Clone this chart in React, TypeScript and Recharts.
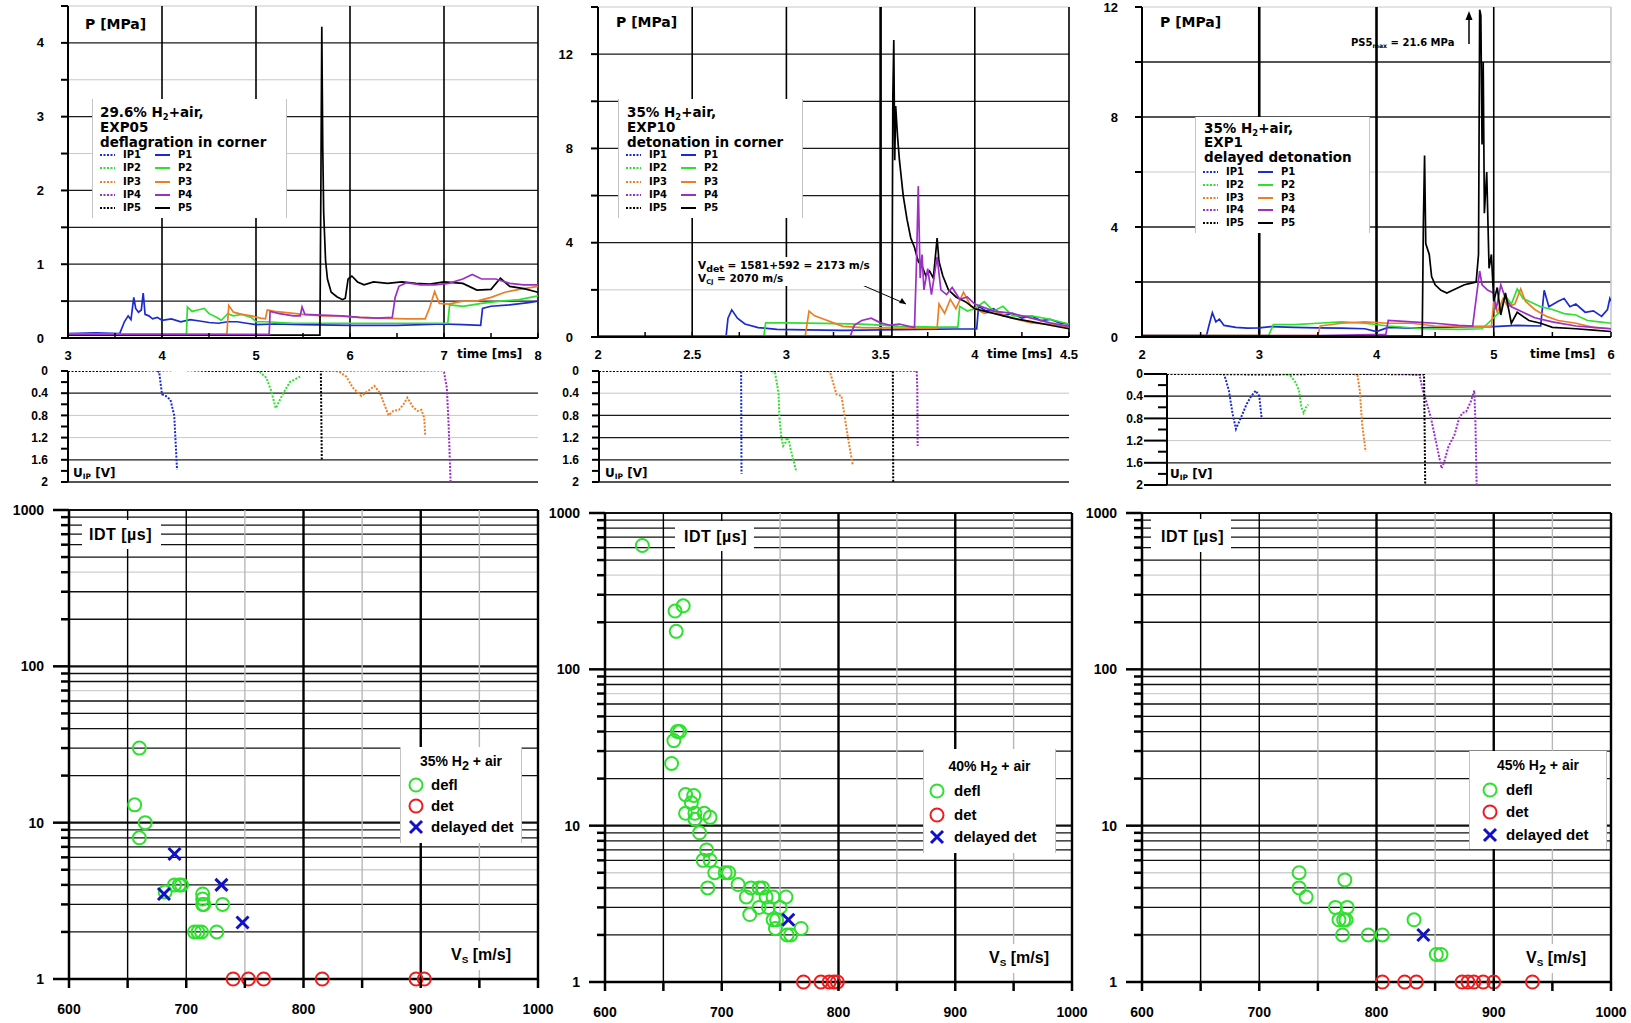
import React from "react";
import { LineChart, Line, XAxis, YAxis, ReferenceLine, ScatterChart, Scatter } from "recharts";

const FONT = '"Liberation Sans", Arial, Helvetica, sans-serif';
const WIDE = '"DejaVu Sans", Verdana, sans-serif';

const BLUE = "#1c2bd0";
const GREEN = "#2fe02f";
const ORANGE = "#ec7f25";
const PURPLE = "#9b2fc6";
const BLACK = "#000000";
const SENSOR_COLORS = [BLUE, GREEN, ORANGE, PURPLE, BLACK];

type Pair = [number, number];
const pts = (a: Pair[]) => a.map(([x, y]) => ({ x, y }));

// ---------- EXP05, 29.6% H2 : pressure [MPa] vs time [ms]
const p1Exp05: Pair[] = [[3,0.06],[3.3,0.07],[3.55,0.06],[3.6,0.22],[3.64,0.3],[3.67,0.25],[3.7,0.55],[3.72,0.4],[3.75,0.35],[3.78,0.38],[3.8,0.61],[3.82,0.32],[3.86,0.3],[3.9,0.26],[3.95,0.28],[4.0,0.24],[4.1,0.26],[4.2,0.22],[4.3,0.25],[4.4,0.23],[4.5,0.21],[4.6,0.2],[4.7,0.22],[4.8,0.22],[4.9,0.2],[5.0,0.18],[5.2,0.19],[5.5,0.18],[6.0,0.17],[6.5,0.17],[7.0,0.19],[7.2,0.18],[7.39,0.17],[7.41,0.4],[7.5,0.43],[7.7,0.45],[7.9,0.48],[8,0.5]];
const p2Exp05: Pair[] = [[3,0.05],[4.26,0.05],[4.27,0.42],[4.32,0.36],[4.38,0.38],[4.45,0.4],[4.5,0.33],[4.58,0.28],[4.63,0.24],[4.7,0.33],[4.76,0.3],[4.85,0.32],[4.95,0.28],[5.0,0.22],[5.1,0.22],[5.4,0.2],[5.8,0.2],[6.3,0.2],[6.8,0.2],[7.04,0.2],[7.06,0.45],[7.2,0.43],[7.4,0.47],[7.6,0.5],[7.8,0.52],[8,0.57]];
const p3Exp05: Pair[] = [[3,0.05],[4.69,0.05],[4.71,0.44],[4.76,0.35],[4.85,0.32],[4.95,0.3],[5.05,0.27],[5.1,0.26],[5.12,0.38],[5.2,0.36],[5.35,0.34],[5.5,0.32],[5.7,0.3],[5.9,0.3],[6.1,0.28],[6.3,0.27],[6.6,0.26],[6.8,0.26],[6.85,0.42],[6.9,0.63],[6.95,0.47],[7.05,0.46],[7.2,0.5],[7.35,0.5],[7.5,0.55],[7.65,0.62],[7.8,0.66],[8,0.7]];
const p4Exp05: Pair[] = [[3,0.05],[5.14,0.05],[5.15,0.36],[5.25,0.33],[5.4,0.3],[5.47,0.3],[5.49,0.42],[5.52,0.32],[5.7,0.31],[5.9,0.3],[6.1,0.28],[6.3,0.27],[6.45,0.28],[6.48,0.55],[6.52,0.7],[6.6,0.75],[6.75,0.72],[6.9,0.72],[7.05,0.74],[7.2,0.8],[7.3,0.86],[7.4,0.8],[7.55,0.8],[7.7,0.74],[7.85,0.72],[8,0.72]];
const p5Exp05: Pair[] = [[3,0.04],[5.68,0.04],[5.69,2.0],[5.7,4.22],[5.71,2.6],[5.72,1.7],[5.74,1.05],[5.76,0.8],[5.8,0.62],[5.86,0.56],[5.92,0.52],[5.95,0.54],[5.98,0.8],[6.02,0.84],[6.08,0.76],[6.15,0.72],[6.25,0.76],[6.4,0.74],[6.55,0.76],[6.7,0.74],[6.85,0.73],[7.0,0.76],[7.2,0.74],[7.35,0.65],[7.5,0.66],[7.6,0.81],[7.7,0.7],[7.85,0.67],[8,0.62]];
// ion probes [V]
const ip1Exp05: Pair[] = [[3.95,0],[3.97,0.02],[4.0,0.42],[4.04,0.45],[4.09,0.52],[4.13,0.8],[4.16,1.78]];
const ip2Exp05: Pair[] = [[5.0,0],[5.04,0.02],[5.11,0.12],[5.16,0.35],[5.21,0.67],[5.29,0.4],[5.36,0.2],[5.47,0.1]];
const ip3Exp05: Pair[] = [[5.85,0],[5.89,0.02],[5.96,0.1],[6.03,0.3],[6.12,0.45],[6.2,0.35],[6.26,0.27],[6.32,0.4],[6.41,0.8],[6.46,0.72],[6.52,0.7],[6.57,0.6],[6.61,0.48],[6.67,0.65],[6.72,0.72],[6.76,0.7],[6.79,0.85],[6.8,1.16]];
const ip4Exp05: Pair[] = [[5.7,0],[6.2,-0.01],[6.5,0],[6.98,-0.01],[7.0,0.02],[7.03,0.3],[7.05,1.0],[7.07,2.0]];
const ip5Exp05: Pair[] = [[3,0],[3.5,0],[4.0,-0.01],[4.2,-0.02],[4.5,0],[5.0,0],[5.69,0],[5.7,1.62]];

// ---------- EXP10, 35% H2
const p1Exp10: Pair[] = [[2,0.05],[2.68,0.05],[2.69,0.8],[2.71,1.15],[2.74,0.8],[2.78,0.55],[2.85,0.4],[2.95,0.32],[3.1,0.3],[3.3,0.28],[3.5,0.3],[3.7,0.32],[3.9,0.34],[4.01,0.34],[4.02,1.3],[4.06,1.1],[4.1,1.2],[4.15,0.9],[4.2,1.0],[4.25,0.8],[4.3,0.9],[4.35,0.7],[4.4,0.75],[4.45,0.6],[4.5,0.55]];
const p2Exp10: Pair[] = [[2,0.05],[2.88,0.05],[2.89,0.6],[3.0,0.6],[3.2,0.58],[3.4,0.55],[3.5,0.5],[3.6,0.45],[3.8,0.42],[3.91,0.42],[3.92,1.3],[3.96,1.1],[4.0,1.2],[4.05,1.5],[4.1,1.1],[4.15,1.3],[4.2,0.9],[4.3,0.9],[4.4,0.75],[4.5,0.55]];
const p3Exp10: Pair[] = [[2,0.05],[3.1,0.05],[3.12,1.1],[3.15,0.9],[3.2,0.75],[3.25,0.6],[3.3,0.45],[3.4,0.4],[3.6,0.38],[3.8,0.38],[3.81,1.4],[3.84,1.0],[3.87,1.6],[3.9,1.2],[3.94,1.9],[3.98,1.3],[4.05,1.0],[4.1,1.1],[4.2,0.8],[4.3,0.6],[4.4,0.55],[4.5,0.4]];
const p4Exp10: Pair[] = [[2,0.05],[3.34,0.05],[3.36,0.5],[3.4,0.7],[3.45,0.8],[3.5,0.6],[3.55,0.5],[3.6,0.55],[3.65,0.45],[3.68,0.4],[3.69,3.0],[3.7,6.4],[3.71,2.5],[3.72,3.5],[3.73,2.0],[3.75,2.9],[3.77,1.8],[3.8,3.4],[3.82,2.0],[3.85,1.8],[3.88,2.1],[3.92,1.6],[3.96,1.7],[4.0,1.4],[4.1,1.1],[4.2,1.0],[4.3,0.8],[4.4,0.6],[4.5,0.45]];
const p5Exp10: Pair[] = [[2,0.03],[3.56,0.03],[3.565,10.2],[3.57,12.6],[3.575,7.5],[3.58,9.8],[3.59,8.5],[3.6,7.5],[3.62,6.0],[3.64,5.0],[3.66,4.2],[3.68,3.8],[3.7,3.2],[3.72,3.0],[3.74,2.6],[3.76,2.8],[3.78,2.5],[3.8,4.2],[3.81,3.2],[3.83,2.6],[3.86,2.0],[3.9,1.7],[3.95,1.5],[4.0,1.2],[4.05,1.1],[4.1,1.0],[4.2,0.8],[4.3,0.65],[4.4,0.5],[4.5,0.35]];
const ip1Exp10: Pair[] = [[2.74,0],[2.756,0],[2.758,1.85]];
const ip2Exp10: Pair[] = [[2.92,0],[2.936,0.02],[2.955,0.4],[2.96,0.85],[2.97,1.2],[2.98,1.35],[2.99,1.3],[3.0,1.2],[3.01,1.25],[3.02,1.42],[3.05,1.82]];
const ip3Exp10: Pair[] = [[3.2,0],[3.228,0.01],[3.263,0.42],[3.29,0.45],[3.307,0.83],[3.325,1.22],[3.35,1.7]];
const ip4Exp10: Pair[] = [[3.56,0],[3.69,0],[3.693,0.3],[3.695,1.35]];
const ip5Exp10: Pair[] = [[2,0],[2.5,0],[3.0,0],[3.563,0],[3.565,2.0]];

// ---------- EXP1, 35% H2, delayed detonation
const p1Exp1: Pair[] = [[2,0.05],[2.55,0.05],[2.57,0.4],[2.6,0.88],[2.63,0.55],[2.66,0.65],[2.7,0.42],[2.8,0.35],[2.9,0.32],[3.0,0.33],[3.1,0.38],[3.3,0.35],[3.5,0.33],[3.7,0.32],[3.9,0.3],[4.0,0.2],[4.1,0.35],[4.3,0.32],[4.5,0.35],[4.8,0.38],[5.0,0.38],[5.2,0.42],[5.4,0.4],[5.43,1.7],[5.47,1.1],[5.55,1.3],[5.6,1.4],[5.65,1.1],[5.7,1.2],[5.78,0.9],[5.85,0.95],[5.92,0.75],[5.97,1.0],[5.99,1.4],[6,1.3]];
const p2Exp1: Pair[] = [[2,0.05],[3.08,0.05],[3.12,0.45],[3.3,0.45],[3.5,0.5],[3.7,0.55],[3.9,0.5],[4.1,0.4],[4.4,0.3],[4.7,0.28],[4.9,0.3],[5.05,0.9],[5.1,1.5],[5.15,1.2],[5.2,1.75],[5.25,1.4],[5.3,1.3],[5.4,1.1],[5.5,1.0],[5.6,0.85],[5.7,0.8],[5.8,0.6],[5.9,0.55],[6,0.5]];
const p3Exp1: Pair[] = [[2,0.05],[3.5,0.05],[3.52,0.4],[3.7,0.5],[3.9,0.55],[4.1,0.5],[4.3,0.5],[4.5,0.4],[4.8,0.38],[4.98,0.38],[5.0,1.3],[5.03,0.9],[5.08,1.4],[5.12,1.1],[5.18,1.2],[5.23,1.75],[5.27,1.3],[5.35,1.0],[5.45,0.75],[5.55,0.6],[5.7,0.5],[5.85,0.35],[6,0.3]];
const p4Exp1: Pair[] = [[2,0.05],[3.5,0.05],[4.08,0.1],[4.1,0.6],[4.3,0.55],[4.5,0.5],[4.7,0.42],[4.82,0.4],[4.85,1.4],[4.88,2.4],[4.9,1.9],[4.95,1.7],[5.0,1.6],[5.02,1.0],[5.06,1.9],[5.1,1.4],[5.15,1.1],[5.25,0.9],[5.35,0.7],[5.5,0.55],[5.7,0.4],[5.85,0.35],[6,0.3]];
const p5Exp1: Pair[] = [[2,0.03],[4.39,0.03],[4.4,4.2],[4.41,6.6],[4.42,3.4],[4.45,3.0],[4.47,2.2],[4.5,1.9],[4.55,1.7],[4.6,1.6],[4.65,1.7],[4.7,1.8],[4.75,1.9],[4.8,1.95],[4.85,2.0],[4.87,3.0],[4.88,11.9],[4.89,11.7],[4.9,7.0],[4.91,10.0],[4.92,4.5],[4.94,6.0],[4.96,2.5],[4.98,3.0],[5.0,1.3],[5.03,1.8],[5.06,0.8],[5.1,1.6],[5.15,0.5],[5.2,0.9],[5.3,0.6],[5.4,0.5],[5.5,0.35],[5.7,0.3],[5.85,0.25],[6,0.2]];
const ip1Exp1: Pair[] = [[2.65,0],[2.69,0.01],[2.73,0.3],[2.76,0.7],[2.79,0.99],[2.84,0.75],[2.88,0.55],[2.92,0.4],[2.96,0.3],[2.99,0.4],[3.01,0.8]];
const ip2Exp1: Pair[] = [[3.2,0],[3.25,0.01],[3.3,0.15],[3.33,0.3],[3.35,0.6],[3.37,0.7],[3.39,0.6],[3.41,0.55]];
const ip3Exp1: Pair[] = [[3.8,0],[3.83,0.02],[3.85,0.3],[3.87,0.9],[3.9,1.4]];
const ip4Exp1: Pair[] = [[3.9,0],[4.1,-0.02],[4.36,0.01],[4.39,0.3],[4.42,0.5],[4.46,0.8],[4.5,1.2],[4.53,1.5],[4.55,1.7],[4.57,1.6],[4.61,1.3],[4.66,1.1],[4.7,0.8],[4.73,0.7],[4.76,0.68],[4.8,0.5],[4.83,0.3],[4.84,0.9],[4.85,2.0]];
const ip5Exp1: Pair[] = [[2.2,0],[2.6,0],[3.0,0.01],[3.5,0],[4.0,0],[4.4,0.01],[4.41,2.0]];

// ---------- ignition delay time [µs] vs shock speed [m/s]
const defl35: Pair[] = [[660,30],[656,13],[665,10],[660,8],[682,3.6],[690,4],[694,4],[696,4],[714,3.5],[714,3.25],[714,3],[715,3],[731,3],[707,2],[710,2],[713,2],[726,2]];
const det35: Pair[] = [[740,1],[753,1],[766,1],[816,1],[896,1],[903,1]];
const delayed35: Pair[] = [[690,6.3],[681,3.5],[730,4.0],[748,2.3]];

const defl40: Pair[] = [[632,620],[660,236],[667,255],[661,175],[662,40],[664,40],[659,35],[657,25],[669,15.8],[676,15.6],[674,14],[669,12],[677,12],[685,12],[690,11.3],[677,11],[681,9],[687,7],[684,6],[690,6],[694,5],[703,5],[706,5],[688,4],[714,4.2],[725,4],[732,4],[735,4],[721,3.5],[738,3.5],[744,3.5],[755,3.5],[724,2.7],[732,3],[740,3],[750,3],[744,2.5],[747,2.5],[746,2.2],[756,2],[759,2],[768,2.2]];
const det40: Pair[] = [[770,1],[785,1],[792,1],[796,1],[799,1]];
const delayed40: Pair[] = [[757,2.5]];

const defl45: Pair[] = [[734,5],[734,4],[740,3.5],[773,4.5],[765,3],[775,3],[768,2.5],[772,2.5],[774,2.5],[771,2],[793,2],[805,2],[832,2.5],[851,1.5],[855,1.5]];
const det45: Pair[] = [[805,1],[824,1],[834,1],[873,1],[878,1],[883,1],[891,1],[900,1],[933,1]];
const delayed45: Pair[] = [[840,2]];

const VS_TICKS = [600, 650, 700, 750, 800, 850, 900, 950, 1000];
const IDT_TICKS = [1,2,3,4,5,6,7,8,9,10,20,30,40,50,60,70,80,90,100,200,300,400,500,600,700,800,900,1000];
const IDT_DECADES = [1, 10, 100, 1000];
const U_TICKS = [0, 0.2, 0.4, 0.6, 0.8, 1, 1.2, 1.4, 1.6, 1.8, 2];
const U_LABELS = [0, 0.4, 0.8, 1.2, 1.6, 2];

type Rect = { x: number; y: number; w: number; h: number };

const labelStyle = { fontFamily: FONT, fontWeight: 700 as const, fill: "#000" };

function TracePanel(props: any) {
  const { plot, hideX } = props;
  const padL = 80, padR = 14, padT = 14;
  const padB = hideX ? 14 : 30;
  const W = plot.w + padL + padR;
  const H = plot.h + padT + padB;
  const left = plot.x - padL;
  const top = plot.y - padT;
  const light: number[] = props.light || [];
  const thick: number[] = props.thick || [];
  const xTick = (p: any) => {
    const v = p.payload.value;
    const major = props.xLabels.includes(v);
    return (
      <g>
        <line x1={p.x} x2={p.x} y1={p.y} y2={p.y - 5} stroke="#000" strokeWidth={1.5} />
        {major && (
          <text x={p.x} y={p.y + 21.5} textAnchor="middle" fontSize={13} {...labelStyle}>
            {v}
          </text>
        )}
      </g>
    );
  };
  const yTick = (p: any) => {
    const v = p.payload.value;
    const major = props.yLabels.includes(v);
    const len = major ? props.yMajorLen : props.yMinorLen;
    return (
      <g>
        <line x1={p.x} x2={p.x - len} y1={p.y} y2={p.y} stroke="#000" strokeWidth={2} />
        {major && (
          <text x={p.x - props.yMajorLen - props.yGap} y={p.y} dy="0.35em" textAnchor="end" fontSize={props.yFs} {...labelStyle}>
            {v}
          </text>
        )}
      </g>
    );
  };
  return (
    <div style={{ position: "absolute", left, top, width: W, height: H }}>
      <LineChart width={W} height={H} margin={{ top: padT, right: padR, bottom: hideX ? padB : 0, left: 0 }}>
        <XAxis type="number" dataKey="x" domain={props.xDomain} ticks={props.xTicks} interval={0} allowDataOverflow hide={hideX} height={padB} tickSize={0} tickMargin={0} axisLine={{ stroke: "#000", strokeWidth: 2 }} tick={xTick} />
        <YAxis type="number" dataKey="y" domain={props.yDomain} ticks={props.yTicks} interval={0} allowDataOverflow reversed={props.reversed} width={padL} tickSize={0} tickMargin={0} axisLine={{ stroke: "#000", strokeWidth: 2 }} tick={yTick} />
        {props.hGrid.map((v: number) => (
          <ReferenceLine key={"h" + v} y={v} stroke={light.includes(v) ? "#c8c8c8" : "#1a1a1a"} strokeWidth={light.includes(v) ? 1 : 1.3} />
        ))}
        {props.vGrid.map((v: number) => (
          <ReferenceLine key={"v" + v} x={v} stroke={light.includes(v) ? "#c8c8c8" : "#000"} strokeWidth={thick.includes(v) ? 2.6 : 1.6} />
        ))}
        {props.series.map((s: any, i: number) => (
          <Line key={i} data={pts(s.data)} dataKey="y" type="linear" stroke={s.color} strokeWidth={s.dotted ? 2 : 1.7} strokeDasharray={s.dotted ? "2 1.5" : undefined} dot={false} activeDot={false} isAnimationActive={false} />
        ))}
      </LineChart>
    </div>
  );
}

const circleShape = (color: string) => (p: any) => (
  <circle cx={p.cx} cy={p.cy} r={6.5} fill="none" stroke={color} strokeWidth={2} />
);
const crossShape = (color: string) => (p: any) => (
  <g stroke={color} strokeWidth={3}>
    <line x1={p.cx - 6} y1={p.cy - 6} x2={p.cx + 6} y2={p.cy + 6} />
    <line x1={p.cx - 6} y1={p.cy + 6} x2={p.cx + 6} y2={p.cy - 6} />
  </g>
);

const IDT_LIGHT = [5, 70, 400, 750, 850, 950];
const IDT_THICK = [800, 900];

function IdtPanel({ plot, defl, det, delayed }: { plot: Rect; defl: Pair[]; det: Pair[]; delayed: Pair[] }) {
  const padL = 80, padR = 19, padT = 14, padB = 44;
  const W = plot.w + padL + padR;
  const H = plot.h + padT + padB;
  const xTick = (p: any) => {
    const v = p.payload.value;
    return (
      <g>
        <line x1={p.x} x2={p.x} y1={p.y} y2={p.y + 9} stroke="#000" strokeWidth={2.5} />
        {v % 100 === 0 && (
          <text x={p.x} y={p.y + 35} textAnchor="middle" fontSize={14} {...labelStyle}>
            {v}
          </text>
        )}
      </g>
    );
  };
  const yTick = (p: any) => {
    const v = p.payload.value;
    const major = IDT_DECADES.includes(v);
    return (
      <g>
        <line x1={p.x} x2={p.x - (major ? 16 : 8)} y1={p.y} y2={p.y} stroke="#000" strokeWidth={2.5} />
        {major && (
          <text x={p.x - 25} y={p.y} dy="0.35em" textAnchor="end" fontSize={14} {...labelStyle}>
            {v}
          </text>
        )}
      </g>
    );
  };
  return (
    <div style={{ position: "absolute", left: plot.x - padL, top: plot.y - padT, width: W, height: H }}>
      <ScatterChart width={W} height={H} margin={{ top: padT, right: padR, bottom: 0, left: 0 }}>
        <XAxis type="number" dataKey="x" domain={[600, 1000]} ticks={VS_TICKS} interval={0} height={padB} tickSize={0} tickMargin={0} axisLine={{ stroke: "#000", strokeWidth: 2.5 }} tick={xTick} />
        <YAxis type="number" dataKey="y" scale="log" domain={[1, 1000]} ticks={IDT_TICKS} interval={0} width={padL} tickSize={0} tickMargin={0} axisLine={{ stroke: "#000", strokeWidth: 2.5 }} tick={yTick} />
        {IDT_TICKS.filter((v) => v > 1).map((v) => (
          <ReferenceLine key={"h" + v} y={v} stroke={IDT_LIGHT.includes(v) ? "#cfcfcf" : "#111"} strokeWidth={IDT_DECADES.includes(v) ? 2.2 : 1.3} />
        ))}
        {VS_TICKS.filter((v) => v > 600).map((v) => (
          <ReferenceLine key={"v" + v} x={v} stroke={IDT_LIGHT.includes(v) ? "#b8b8b8" : "#000"} strokeWidth={IDT_THICK.includes(v) || v === 1000 ? 2.4 : 1.4} />
        ))}
        <Scatter data={pts(defl)} shape={circleShape(GREEN)} isAnimationActive={false} />
        <Scatter data={pts(det)} shape={circleShape("#ee1c1c")} isAnimationActive={false} />
        <Scatter data={pts(delayed)} shape={crossShape("#1010cc")} isAnimationActive={false} />
      </ScatterChart>
    </div>
  );
}

function Label({ x, y, size, children, style, font }: any) {
  return (
    <div style={{ position: "absolute", left: x, top: y - size * 0.6, fontSize: size, lineHeight: `${size * 1.2}px`, fontWeight: 700, fontFamily: font || FONT, whiteSpace: "nowrap", color: "#000", ...style }}>
      {children}
    </div>
  );
}

const Sub = ({ children, size = "0.62em" }: any) => (
  <span style={{ fontSize: size, verticalAlign: "-0.3em", lineHeight: 0 }}>{children}</span>
);

const Box = ({ x, y, w, h, sides }: any) => (
  <div style={{ position: "absolute", left: x, top: y, width: w, height: h, background: "#fff", borderLeft: sides ? "1px solid #c4c4c4" : undefined, borderRight: sides ? "1px solid #c4c4c4" : undefined, boxSizing: "border-box" }} />
);

function TopLegend({ x, y, w, h, lines, tx, ty, tdy, rx, ry, rdy }: any) {
  return (
    <>
      <Box x={x} y={y} w={w} h={h} sides />
      {lines.map((ln: any, i: number) => (
        <Label key={i} x={tx} y={ty + i * tdy} size={13.5} font={WIDE}>{ln}</Label>
      ))}
      {SENSOR_COLORS.map((c, i) => (
        <React.Fragment key={i}>
          <svg style={{ position: "absolute", left: rx, top: ry + i * rdy - 2 }} width={15} height={4}>
            <line x1={0} x2={15} y1={2} y2={2} stroke={c} strokeWidth={2} strokeDasharray="2 1.5" />
          </svg>
          <Label x={rx + 23} y={ry + i * rdy} size={10} font={WIDE}>IP{i + 1}</Label>
          <svg style={{ position: "absolute", left: rx + 55, top: ry + i * rdy - 2 }} width={15} height={4}>
            <line x1={0} x2={15} y1={2} y2={2} stroke={c} strokeWidth={2} />
          </svg>
          <Label x={rx + 78} y={ry + i * rdy} size={10} font={WIDE}>P{i + 1}</Label>
        </React.Fragment>
      ))}
    </>
  );
}

function IdtLegend({ x, y, w, h, pct, ty, rows, mx, tx, fs }: any) {
  const items = [
    { label: "defl", kind: "o", color: GREEN },
    { label: "det", kind: "o", color: "#ee1c1c" },
    { label: "delayed det", kind: "x", color: "#1010cc" },
  ];
  return (
    <>
      <Box x={x} y={y} w={w} h={h} sides />
      <Label x={x} y={ty} size={fs - 1} style={{ width: w, textAlign: "center" }}>
        {pct}% H<Sub size="0.9em">2</Sub> + air
      </Label>
      {items.map((it, i) => (
        <React.Fragment key={i}>
          <svg style={{ position: "absolute", left: mx - 9, top: rows[i] - 9 }} width={18} height={18}>
            {it.kind === "o" ? (
              <circle cx={9} cy={9} r={6.5} fill="none" stroke={it.color} strokeWidth={2} />
            ) : (
              <g stroke={it.color} strokeWidth={3}>
                <line x1={3} y1={3} x2={15} y2={15} />
                <line x1={3} y1={15} x2={15} y2={3} />
              </g>
            )}
          </svg>
          <Label x={tx} y={rows[i]} size={fs}>{it.label}</Label>
        </React.Fragment>
      ))}
    </>
  );
}

const H2 = () => (
  <>
    H<Sub>2</Sub>
  </>
);

export default function App() {
  const s = (list: Pair[][], dotted = false, order = [0, 1, 2, 3, 4]) =>
    order.map((i) => ({ data: list[i], color: SENSOR_COLORS[i], dotted }));
  return (
    <div style={{ position: "absolute", left: 0, top: 0, width: 1631, height: 1023, background: "#fff", overflow: "hidden", fontFamily: FONT }}>
      {/* pressure traces */}
      <TracePanel
        plot={{ x: 68, y: 6, w: 470, h: 332 }}
        xDomain={[3, 8]} xTicks={[3, 3.5, 4, 4.5, 5, 5.5, 6, 6.5, 7, 7.5, 8]} xLabels={[3, 4, 5, 6, 7, 8]}
        yDomain={[0, 4.5]} yTicks={[0, 0.5, 1, 1.5, 2, 2.5, 3, 3.5, 4, 4.5]} yLabels={[0, 1, 2, 3, 4]}
        yMajorLen={7} yMinorLen={7} yGap={17} yFs={13}
        hGrid={[0.5, 1, 1.5, 2, 2.5, 3, 3.5, 4, 4.5]} light={[2.5, 3.5, 4.5]} vGrid={[4, 5, 6, 7, 8]}
        series={s([p1Exp05, p2Exp05, p3Exp05, p4Exp05, p5Exp05], false, [0, 1, 2, 4, 3])}
      />
      <TracePanel
        plot={{ x: 598, y: 7, w: 471, h: 330 }}
        xDomain={[2, 4.5]} xTicks={[2, 2.25, 2.5, 2.75, 3, 3.25, 3.5, 3.75, 4, 4.25, 4.5]} xLabels={[2, 2.5, 3, 3.5, 4, 4.5]}
        yDomain={[0, 14]} yTicks={[0, 2, 4, 6, 8, 10, 12, 14]} yLabels={[0, 4, 8, 12]}
        yMajorLen={7} yMinorLen={7} yGap={18} yFs={13}
        hGrid={[2, 4, 6, 8, 10, 12, 14]} light={[2, 14]} vGrid={[2.5, 3, 3.5, 4, 4.5]} thick={[3.5]}
        series={s([p1Exp10, p2Exp10, p3Exp10, p4Exp10, p5Exp10], false, [0, 1, 2, 4, 3])}
      />
      <TracePanel
        plot={{ x: 1142, y: 7, w: 469, h: 330 }}
        xDomain={[2, 6]} xTicks={[2, 2.5, 3, 3.5, 4, 4.5, 5, 5.5, 6]} xLabels={[2, 3, 4, 5, 6]}
        yDomain={[0, 12]} yTicks={[0, 2, 4, 6, 8, 10, 12]} yLabels={[0, 4, 8, 12]}
        yMajorLen={7} yMinorLen={7} yGap={17} yFs={13}
        hGrid={[2, 4, 6, 8, 10, 12]} light={[6, 12]} vGrid={[3, 4, 5, 6]} thick={[3, 4]}
        series={s([p1Exp1, p2Exp1, p3Exp1, p4Exp1, p5Exp1])}
      />
      {/* ion probe traces */}
      <TracePanel
        plot={{ x: 68, y: 371, w: 470, h: 111 }} hideX reversed
        xDomain={[3, 8]} xTicks={[3, 8]} xLabels={[]}
        yDomain={[0, 2]} yTicks={U_TICKS} yLabels={U_LABELS}
        yMajorLen={7} yMinorLen={7} yGap={13} yFs={12}
        hGrid={[0.4, 0.8, 1.2, 1.6, 2]} light={[0.8, 1.2]} vGrid={[]}
        series={s([ip1Exp05, ip2Exp05, ip3Exp05, ip4Exp05, ip5Exp05], true)}
      />
      <TracePanel
        plot={{ x: 599, y: 371, w: 470, h: 111 }} hideX reversed
        xDomain={[2, 4.5]} xTicks={[2, 4.5]} xLabels={[]}
        yDomain={[0, 2]} yTicks={U_TICKS} yLabels={U_LABELS}
        yMajorLen={7} yMinorLen={7} yGap={13} yFs={12}
        hGrid={[0.4, 0.8, 1.2, 1.6, 2]} light={[0.4]} vGrid={[]}
        series={s([ip1Exp10, ip2Exp10, ip3Exp10, ip4Exp10, ip5Exp10], true)}
      />
      <TracePanel
        plot={{ x: 1167, y: 374, w: 444, h: 111 }} hideX reversed
        xDomain={[2.2, 6]} xTicks={[2.2, 6]} xLabels={[]}
        yDomain={[0, 2]} yTicks={U_TICKS} yLabels={U_LABELS}
        yMajorLen={23} yMinorLen={9} yGap={1} yFs={12}
        hGrid={[0, 0.4, 0.8, 1.2, 1.6, 2]} light={[0, 1.2]} vGrid={[]}
        series={s([ip1Exp1, ip2Exp1, ip3Exp1, ip4Exp1, ip5Exp1], true)}
      />
      {/* ignition delay */}
      <IdtPanel plot={{ x: 69, y: 510, w: 469, h: 469 }} defl={defl35} det={det35} delayed={delayed35} />
      <IdtPanel plot={{ x: 605, y: 513, w: 467, h: 469 }} defl={defl40} det={det40} delayed={delayed40} />
      <IdtPanel plot={{ x: 1142, y: 513, w: 469, h: 469 }} defl={defl45} det={det45} delayed={delayed45} />

      {/* annotation arrows */}
      <svg width={1631} height={1023} style={{ position: "absolute", left: 0, top: 0, pointerEvents: "none" }}>
        <line x1={832} y1={272} x2={906} y2={304} stroke="#000" strokeWidth={1} />
        <path d="M906 304 L899 303 L902 298 Z" fill="#000" />
        <line x1={1469} y1={44} x2={1469} y2={18} stroke="#000" strokeWidth={1.5} />
        <path d="M1469 11 L1465.5 20 L1472.5 20 Z" fill="#000" />
      </svg>

      {/* top row texts */}
      <Label x={85} y={24} size={14} font={WIDE}>P [MPa]</Label>
      <Label x={616} y={22} size={14} font={WIDE}>P [MPa]</Label>
      <Label x={1160} y={22} size={14} font={WIDE}>P [MPa]</Label>
      <Label x={457} y={354} size={12} font={WIDE}>time [ms]</Label>
      <Label x={987} y={354} size={12} font={WIDE}>time [ms]</Label>
      <Label x={1530} y={354} size={12} font={WIDE}>time [ms]</Label>

      <TopLegend x={92} y={99} w={195} h={119} tx={100} ty={112} tdy={15} rx={100} ry={155} rdy={13.3}
        lines={[<>29.6% <H2 />+air,</>, "EXP05", "deflagration in corner"]} />
      <TopLegend x={618} y={99} w={185} h={119} tx={627} ty={112} tdy={15} rx={626} ry={155} rdy={13.3}
        lines={[<>35% <H2 />+air,</>, "EXP10", "detonation in corner"]} />
      <TopLegend x={1195} y={117} w={175} h={116} tx={1204} ty={128} tdy={14.5} rx={1203} ry={172} rdy={12.8}
        lines={[<>35% <H2 />+air,</>, "EXP1", "delayed detonation"]} />

      <Box x={695} y={257} w={180} h={29} />
      <Label x={698} y={265} size={10.5} font={WIDE}>V<Sub size="0.9em">det</Sub> = 1581+592 = 2173 m/s</Label>
      <Label x={698} y={278} size={10.5} font={WIDE}>V<Sub>CJ</Sub> = 2070 m/s</Label>
      <Label x={1351} y={43} size={10} font={WIDE}>PS5<Sub>max</Sub> = 21.6 MPa</Label>

      <Label x={73} y={473} size={12} font={WIDE}>U<Sub>IP</Sub> [V]</Label>
      <Label x={605} y={473} size={12} font={WIDE}>U<Sub>IP</Sub> [V]</Label>
      <Label x={1170} y={474} size={12} font={WIDE}>U<Sub>IP</Sub> [V]</Label>

      {/* bottom row texts */}
      <Box x={82} y={520} w={79} h={29} />
      <Label x={89} y={535} size={16} style={{ letterSpacing: 0.5 }}>IDT [µs]</Label>
      <Box x={675} y={521} w={79} h={30} />
      <Label x={684} y={537} size={16} style={{ letterSpacing: 0.5 }}>IDT [µs]</Label>
      <Box x={1151} y={519} w={80} h={33} />
      <Label x={1161} y={537} size={16} style={{ letterSpacing: 0.5 }}>IDT [µs]</Label>

      <Box x={447} y={941} w={73} h={29} />
      <Label x={451} y={955} size={16}>V<Sub>S</Sub> [m/s]</Label>
      <Box x={986} y={944} w={70} h={29} />
      <Label x={989} y={958} size={16}>V<Sub>S</Sub> [m/s]</Label>
      <Box x={1522} y={944} w={70} h={29} />
      <Label x={1526} y={958} size={16}>V<Sub>S</Sub> [m/s]</Label>

      <IdtLegend x={400} y={747} w={122} h={96} pct={35} ty={761} rows={[785, 806, 827]} mx={416} tx={431} fs={15} />
      <IdtLegend x={923} y={749} w={133} h={104} pct={40} ty={766} rows={[791, 815, 837]} mx={937} tx={954} fs={15} />
      <IdtLegend x={1469} y={751} w={138} h={98} pct={45} ty={765} rows={[790, 812, 835]} mx={1490} tx={1506} fs={15} />
    </div>
  );
}
